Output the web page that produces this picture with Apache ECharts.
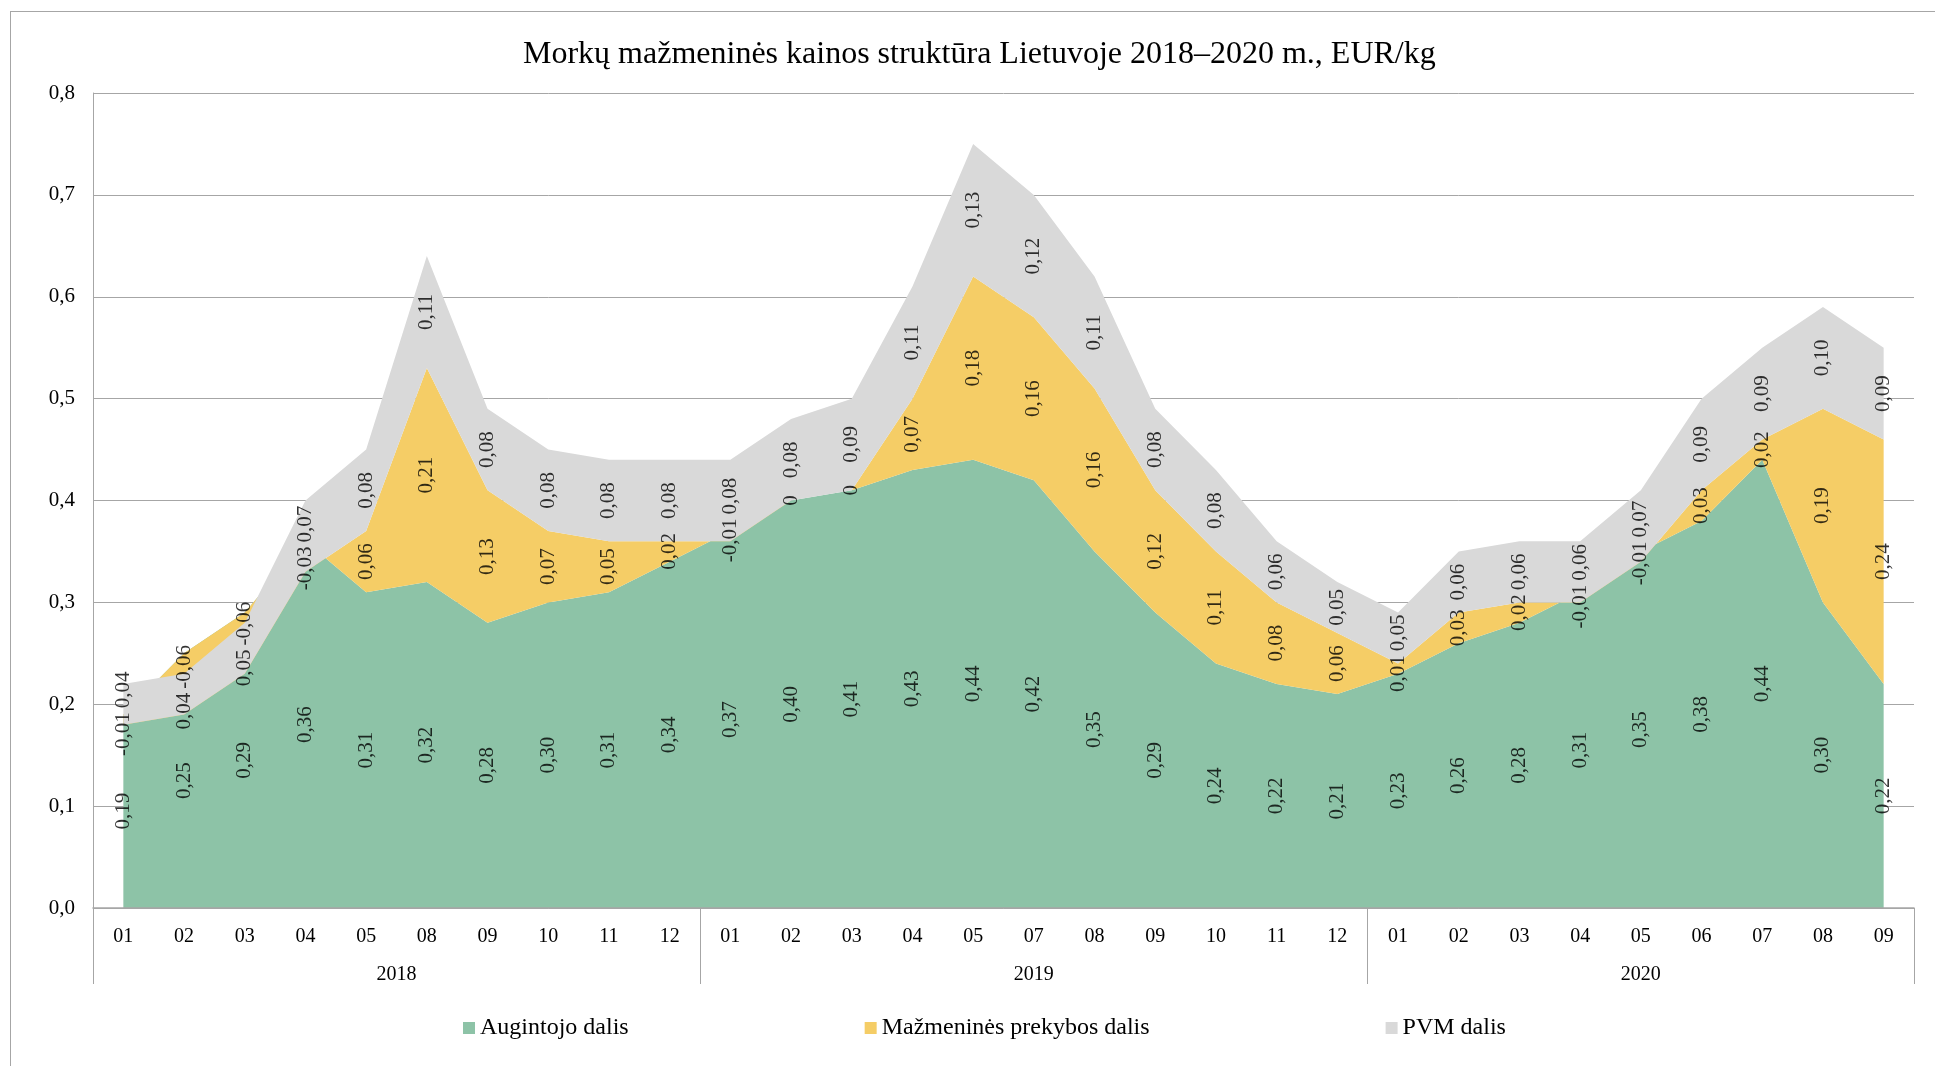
<!DOCTYPE html>
<html>
<head>
<meta charset="utf-8">
<script src="https://cdn.jsdelivr.net/npm/echarts@6/dist/echarts.min.js"></script>
<style>
  html, body { margin: 0; padding: 0; background: #fff; overflow: hidden; }
  #frame { position: absolute; left: 10px; top: 11px; width: 2100px; height: 1200px;
           border-left: 1px solid #a6a6a6; border-top: 1px solid #a6a6a6; }
  #chart { position: absolute; left: 0; top: 0; width: 1935px; height: 1066px; }
</style>
</head>
<body>
<div id="frame"></div>
<div id="chart"></div>
<script>
// ---- data ----
const years = ['2018', '2019', '2020'];
const months2018 = ['01', '02', '03', '04', '05', '08', '09', '10', '11', '12'];
const months2019 = ['01', '02', '03', '04', '05', '07', '08', '09', '10', '11', '12'];
const months2020 = ['01', '02', '03', '04', '05', '06', '07', '08', '09'];

const seriesNames = ['Augintojo dalis', 'Mažmeninės prekybos dalis', 'PVM dalis'];
const grower = [0.19, 0.25, 0.29, 0.36, 0.31, 0.32, 0.28, 0.30, 0.31, 0.34,
                0.37, 0.40, 0.41, 0.43, 0.44, 0.42, 0.35, 0.29, 0.24, 0.22, 0.21,
                0.23, 0.26, 0.28, 0.31, 0.35, 0.38, 0.44, 0.30, 0.22];
const retail = [-0.01, -0.06, -0.06, -0.03, 0.06, 0.21, 0.13, 0.07, 0.05, 0.02,
                -0.01, 0, 0, 0.07, 0.18, 0.16, 0.16, 0.12, 0.11, 0.08, 0.06,
                0.01, 0.03, 0.02, -0.01, -0.01, 0.03, 0.02, 0.19, 0.24];
const vat = [0.04, 0.04, 0.05, 0.07, 0.08, 0.11, 0.08, 0.08, 0.08, 0.08,
             0.08, 0.08, 0.09, 0.11, 0.13, 0.12, 0.11, 0.08, 0.08, 0.06, 0.05,
             0.05, 0.06, 0.06, 0.06, 0.07, 0.09, 0.09, 0.10, 0.09];
const colors = ['#8DC3A7', '#F5CD66', '#D9D9D9'];

// ---- layout constants ----
const W = 1935, H = 1066;
const GRID = { left: 93, right: 21, top: 93, bottom: 158 };
const Y_MIN = 0, Y_MAX = 0.8, Y_STEP = 0.1;
const FONT = '"Liberation Serif", "Times New Roman", serif';
const LABEL_SIZE = 21;
const GRID_COLOR = '#a6a6a6';

// ---- derived ----
const monthGroups = [months2018, months2019, months2020];
const categories = [].concat(...monthGroups);
const n = categories.length;
const bounds = [0];
monthGroups.forEach(g => bounds.push(bounds[bounds.length - 1] + g.length));
const yearMids = years.map((y, i) => (bounds[i] + bounds[i + 1]) / 2);

const fmtVal = v => v === 0 ? '0' : v.toFixed(2).replace('.', ',');

const values = [grower, retail, vat];
const areaSeries = values.map((arr, k) => ({
  name: seriesNames[k],
  type: 'line',
  stack: 'total',
  stackStrategy: 'all',
  data: arr,
  symbol: 'none',
  showSymbol: false,
  lineStyle: { width: 0 },
  areaStyle: { color: colors[k], opacity: 1 },
  itemStyle: { color: colors[k] },
  emphasis: { disabled: true },
  animation: false,
  z: 2
}));

// label positions: middle of each stacked segment, then spread apart if texts collide
const ctx = document.createElement('canvas').getContext('2d');
ctx.font = LABEL_SIZE + 'px ' + FONT;
const pxPerUnit = (H - GRID.top - GRID.bottom) / (Y_MAX - Y_MIN);
const PAD = 4 / pxPerUnit;
const labelData = [];
for (let i = 0; i < n; i++) {
  let base = 0;
  const items = values.map(arr => {
    const v = arr[i];
    const text = fmtVal(v);
    const it = { y: base + v / 2, v, h: ctx.measureText(text).width / 2 / pxPerUnit };
    base += v;
    return it;
  });
  for (let pass = 0; pass < 20; pass++) {
    items.sort((a, b) => a.y - b.y);
    let moved = false;
    for (let j = 0; j < items.length - 1; j++) {
      const a = items[j], b = items[j + 1];
      const need = a.h + b.h + PAD;
      const gap = b.y - a.y;
      if (gap < need - 1e-9) {
        const d = (need - gap) / 2;
        a.y -= d; b.y += d; moved = true;
      }
    }
    if (!moved) break;
  }
  items.forEach(it => labelData.push([i, it.y, it.v]));
}
const labelSeries = {
  name: 'labels',
  type: 'scatter',
  data: labelData,
  symbol: 'circle',
  symbolSize: 2,
  itemStyle: { color: 'rgba(0,0,0,0)' },
  silent: true,
  animation: false,
  z: 5,
  label: {
    show: true,
    position: 'inside',
    rotate: 90,
    color: '#000',
    fontFamily: FONT,
    fontSize: LABEL_SIZE,
    formatter: p => fmtVal(p.value[2])
  },
  labelLayout: { hideOverlap: false }
};

const chart = echarts.init(document.getElementById('chart'), null, { renderer: 'canvas' });
chart.setOption({
  backgroundColor: 'transparent',
  animation: false,
  title: {
    text: 'Morkų mažmeninės kainos struktūra Lietuvoje 2018–2020 m., EUR/kg',
    left: 518,
    top: 34,
    textStyle: { fontFamily: FONT, fontSize: 32, fontWeight: 'normal', color: '#000' }
  },
  legend: {
    data: seriesNames,
    left: 458,
    top: 1011,
    icon: 'rect',
    itemWidth: 12,
    itemHeight: 12,
    itemGap: 236,
    textStyle: { fontFamily: FONT, fontSize: 24, color: '#000' }
  },
  grid: { left: GRID.left, right: GRID.right, top: GRID.top, bottom: GRID.bottom, containLabel: false },
  xAxis: [
    {
      type: 'category',
      data: categories,
      boundaryGap: true,
      axisLine: { show: true, lineStyle: { color: GRID_COLOR, width: 1.5 } },
      axisTick: { show: false },
      axisLabel: { fontFamily: FONT, fontSize: 20, color: '#000', margin: 19, interval: 0 },
      z: 10
    },
    {
      type: 'value',
      min: 0,
      max: n,
      position: 'bottom',
      axisLine: { show: false },
      splitLine: { show: false },
      axisTick: { show: true, customValues: bounds, length: 76, lineStyle: { color: GRID_COLOR, width: 1 } },
      axisLabel: {
        show: true,
        customValues: yearMids,
        margin: 57,
        fontFamily: FONT, fontSize: 20, color: '#000',
        formatter: v => {
          const idx = yearMids.findIndex(m => Math.abs(m - v) < 1e-6);
          return idx >= 0 ? years[idx] : '';
        }
      }
    }
  ],
  yAxis: {
    type: 'value',
    min: Y_MIN,
    max: Y_MAX,
    interval: Y_STEP,
    axisLine: { show: true, lineStyle: { color: GRID_COLOR, width: 1 } },
    axisTick: { show: false },
    splitLine: { show: true, lineStyle: { color: GRID_COLOR, width: 1 } },
    axisLabel: {
      fontFamily: FONT, fontSize: 21, color: '#000', margin: 18,
      formatter: v => v.toFixed(1).replace('.', ',')
    }
  },
  series: [...areaSeries, labelSeries]
});
</script>
</body>
</html>
